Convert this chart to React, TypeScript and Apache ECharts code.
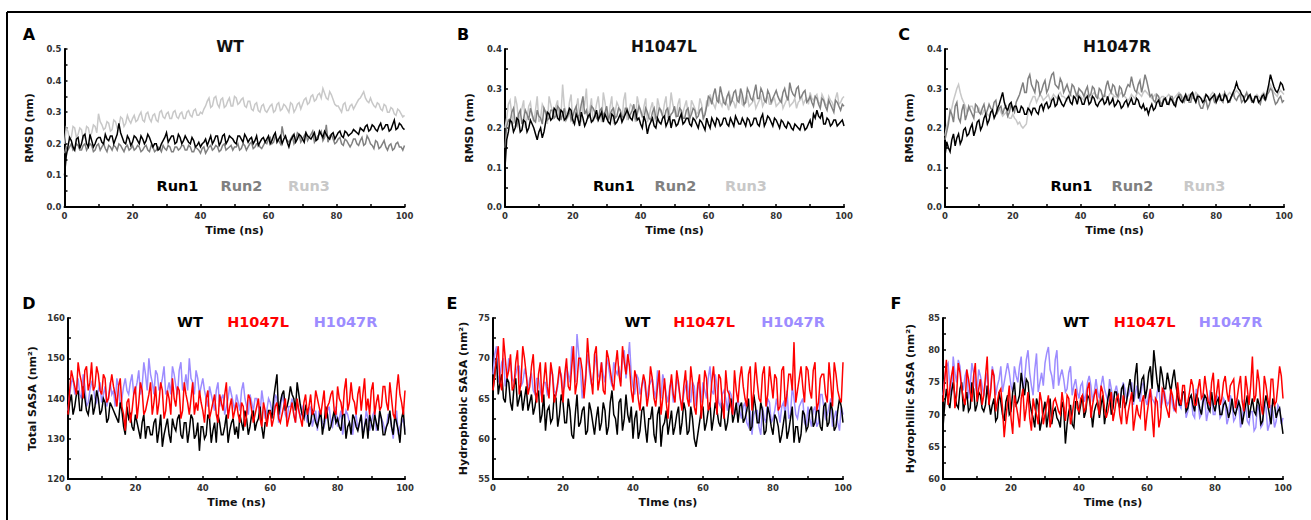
import React, { useEffect, useRef } from "react";
import * as echarts from "echarts";

// Time axis (ns): samples at whole ns (TIME) and half ns (TIME + 0.5)
const TIME: number[] = Array.from({ length: 101 }, (_, i) => i);

// ---------- Panel A : WT RMSD (nm) ----------
const A_RUN1 = [0.10,0.19,0.21,0.18,0.22,0.20,0.23,0.19,0.21,0.20,0.22,0.205,0.23,0.21,0.225,0.215,0.265,0.22,0.20,0.215,0.205,0.22,0.20,0.215,0.21,0.22,0.19,0.20,0.185,0.21,0.235,0.215,0.225,0.205,0.22,0.21,0.215,0.20,0.21,0.195,0.19,0.205,0.195,0.225,0.21,0.225,0.205,0.23,0.21,0.22,0.205,0.225,0.215,0.23,0.205,0.22,0.21,0.195,0.215,0.205,0.225,0.21,0.235,0.215,0.20,0.225,0.19,0.22,0.205,0.23,0.215,0.235,0.22,0.225,0.21,0.24,0.22,0.23,0.215,0.235,0.225,0.24,0.22,0.235,0.23,0.245,0.235,0.25,0.24,0.26,0.245,0.255,0.24,0.265,0.25,0.26,0.245,0.275,0.25,0.26,0.245];
const A_RUN1_H = [
  0.16,0.22,0.19,0.215,0.185,0.225,0.20,0.23,0.19,0.215,
  0.22,0.20,0.215,0.225,0.20,0.23,0.235,0.205,0.225,0.195,
  0.225,0.21,0.225,0.20,0.23,0.205,0.20,0.18,0.20,0.22,
  0.205,0.225,0.20,0.23,0.20,0.225,0.205,0.22,0.19,0.205,
  0.20,0.215,0.21,0.20,0.225,0.195,0.225,0.20,0.225,0.215,
  0.20,0.225,0.205,0.22,0.215,0.20,0.225,0.205,0.22,0.215,
  0.20,0.225,0.205,0.225,0.215,0.205,0.21,0.23,0.215,0.225,
  0.205,0.225,0.215,0.235,0.215,0.23,0.24,0.22,0.23,0.215,
  0.235,0.225,0.24,0.225,0.235,0.24,0.23,0.245,0.255,0.24,
  0.26,0.245,0.255,0.245,0.26,0.24,0.26,0.245,0.265,0.25];
const A_RUN2 = [0.17,0.18,0.20,0.185,0.195,0.18,0.20,0.19,0.195,0.18,0.20,0.19,0.185,0.195,0.18,0.19,0.20,0.185,0.19,0.18,0.195,0.185,0.19,0.18,0.195,0.175,0.19,0.18,0.185,0.195,0.18,0.19,0.175,0.19,0.185,0.195,0.18,0.19,0.175,0.185,0.17,0.19,0.18,0.195,0.185,0.19,0.18,0.20,0.185,0.195,0.19,0.20,0.185,0.195,0.19,0.205,0.19,0.20,0.185,0.205,0.215,0.20,0.225,0.21,0.255,0.22,0.205,0.225,0.21,0.23,0.215,0.235,0.22,0.24,0.215,0.23,0.21,0.26,0.225,0.215,0.205,0.22,0.195,0.21,0.19,0.215,0.20,0.21,0.195,0.225,0.20,0.185,0.205,0.19,0.21,0.18,0.20,0.185,0.205,0.19,0.195];
const A_RUN2_H = [
  0.19,0.19,0.18,0.20,0.18,0.195,0.18,0.20,0.175,0.195,
  0.18,0.20,0.175,0.19,0.195,0.18,0.195,0.175,0.195,0.185,
  0.18,0.195,0.175,0.19,0.18,0.195,0.175,0.19,0.175,0.185,
  0.195,0.175,0.19,0.18,0.195,0.18,0.195,0.175,0.19,0.18,
  0.185,0.17,0.19,0.18,0.195,0.175,0.195,0.18,0.19,0.18,
  0.19,0.18,0.20,0.18,0.20,0.185,0.20,0.19,0.195,0.20,
  0.22,0.205,0.215,0.20,0.225,0.21,0.215,0.20,0.235,0.205,
  0.225,0.21,0.23,0.205,0.225,0.24,0.22,0.205,0.23,0.20,
  0.215,0.20,0.215,0.20,0.20,0.215,0.195,0.22,0.20,0.215,
  0.195,0.21,0.185,0.20,0.19,0.195,0.18,0.20,0.19,0.18];
const A_RUN3 = [0.20,0.24,0.22,0.25,0.23,0.245,0.225,0.25,0.235,0.255,0.295,0.26,0.25,0.265,0.245,0.27,0.255,0.28,0.265,0.275,0.28,0.27,0.29,0.275,0.295,0.28,0.29,0.275,0.30,0.285,0.295,0.28,0.30,0.285,0.295,0.28,0.30,0.29,0.305,0.29,0.30,0.31,0.335,0.315,0.345,0.325,0.34,0.315,0.335,0.32,0.35,0.325,0.34,0.32,0.335,0.31,0.325,0.305,0.32,0.305,0.31,0.325,0.305,0.33,0.31,0.32,0.30,0.325,0.31,0.33,0.325,0.345,0.33,0.355,0.34,0.36,0.375,0.345,0.365,0.34,0.32,0.31,0.325,0.305,0.32,0.31,0.33,0.345,0.365,0.335,0.345,0.32,0.33,0.31,0.325,0.30,0.315,0.295,0.31,0.295,0.29];
const A_RUN3_H = [
  0.25,0.215,0.255,0.22,0.25,0.215,0.255,0.225,0.26,0.235,
  0.27,0.245,0.27,0.24,0.275,0.25,0.285,0.255,0.29,0.265,
  0.29,0.275,0.30,0.27,0.30,0.27,0.295,0.27,0.305,0.28,
  0.30,0.28,0.305,0.28,0.30,0.28,0.305,0.285,0.31,0.29,
  0.295,0.32,0.345,0.32,0.35,0.315,0.345,0.32,0.345,0.32,
  0.345,0.33,0.345,0.315,0.335,0.305,0.33,0.30,0.325,0.30,
  0.32,0.30,0.325,0.305,0.325,0.31,0.33,0.30,0.325,0.31,
  0.34,0.325,0.35,0.335,0.355,0.345,0.36,0.34,0.355,0.325,
  0.32,0.30,0.33,0.305,0.325,0.32,0.34,0.355,0.345,0.33,
  0.33,0.315,0.325,0.305,0.32,0.30,0.31,0.29,0.305,0.285];

// ---------- Panel B : H1047L RMSD (nm) ----------
const B_RUN1 = [0.10,0.19,0.215,0.20,0.22,0.195,0.215,0.20,0.21,0.185,0.19,0.175,0.215,0.235,0.225,0.245,0.22,0.24,0.225,0.25,0.22,0.235,0.205,0.225,0.215,0.235,0.22,0.245,0.23,0.215,0.225,0.21,0.23,0.215,0.235,0.225,0.245,0.225,0.24,0.22,0.21,0.23,0.185,0.215,0.205,0.225,0.21,0.23,0.215,0.20,0.22,0.21,0.235,0.215,0.225,0.205,0.22,0.20,0.215,0.195,0.21,0.225,0.205,0.22,0.21,0.225,0.205,0.215,0.23,0.21,0.225,0.205,0.22,0.21,0.225,0.205,0.235,0.215,0.225,0.205,0.22,0.20,0.215,0.20,0.21,0.195,0.205,0.195,0.21,0.20,0.22,0.235,0.245,0.225,0.21,0.225,0.205,0.22,0.205,0.215,0.205];
const B_RUN1_H = [
  0.17,0.22,0.19,0.225,0.19,0.22,0.19,0.22,0.20,0.17,
  0.20,0.19,0.24,0.22,0.25,0.225,0.245,0.22,0.235,0.245,
  0.21,0.225,0.24,0.205,0.23,0.215,0.23,0.22,0.24,0.235,
  0.215,0.235,0.21,0.225,0.215,0.235,0.235,0.22,0.245,0.225,
  0.20,0.215,0.205,0.225,0.20,0.215,0.225,0.205,0.23,0.22,
  0.205,0.225,0.21,0.225,0.21,0.225,0.21,0.22,0.205,0.225,
  0.20,0.215,0.225,0.205,0.225,0.21,0.225,0.205,0.22,0.21,
  0.215,0.225,0.205,0.225,0.21,0.225,0.205,0.23,0.215,0.225,
  0.21,0.22,0.205,0.215,0.20,0.21,0.20,0.21,0.195,0.21,
  0.20,0.225,0.23,0.24,0.21,0.22,0.21,0.22,0.21,0.22];
const B_RUN2 = [0.15,0.22,0.24,0.215,0.235,0.21,0.245,0.22,0.235,0.215,0.23,0.21,0.24,0.225,0.245,0.23,0.25,0.235,0.22,0.245,0.23,0.255,0.235,0.28,0.245,0.23,0.25,0.225,0.245,0.23,0.255,0.235,0.25,0.23,0.245,0.225,0.25,0.235,0.26,0.235,0.245,0.225,0.24,0.22,0.25,0.23,0.245,0.225,0.25,0.235,0.255,0.23,0.245,0.225,0.25,0.235,0.245,0.23,0.25,0.235,0.28,0.26,0.30,0.265,0.285,0.26,0.29,0.27,0.295,0.265,0.285,0.265,0.29,0.27,0.31,0.275,0.29,0.265,0.285,0.275,0.295,0.27,0.29,0.28,0.315,0.285,0.30,0.275,0.29,0.265,0.28,0.255,0.275,0.25,0.27,0.245,0.26,0.24,0.265,0.245,0.255];
const B_RUN2_H = [
  0.205,0.215,0.25,0.205,0.245,0.225,0.235,0.25,0.22,0.245,
  0.225,0.25,0.22,0.245,0.225,0.255,0.22,0.25,0.23,0.22,
  0.245,0.225,0.26,0.235,0.225,0.255,0.24,0.22,0.25,0.24,
  0.22,0.245,0.225,0.25,0.23,0.25,0.225,0.245,0.225,0.255,
  0.23,0.25,0.225,0.24,0.225,0.25,0.23,0.245,0.225,0.24,
  0.23,0.25,0.225,0.245,0.225,0.25,0.225,0.245,0.225,0.255,
  0.275,0.285,0.27,0.305,0.265,0.28,0.26,0.29,0.27,0.30,
  0.26,0.30,0.275,0.29,0.275,0.30,0.27,0.295,0.265,0.285,
  0.28,0.265,0.30,0.27,0.295,0.28,0.305,0.28,0.295,0.27,
  0.265,0.28,0.26,0.275,0.255,0.27,0.25,0.27,0.255,0.26];
const B_RUN3 = [0.20,0.26,0.235,0.28,0.22,0.25,0.20,0.255,0.23,0.245,0.215,0.26,0.235,0.28,0.24,0.255,0.22,0.31,0.24,0.265,0.21,0.25,0.23,0.27,0.30,0.245,0.215,0.26,0.24,0.29,0.235,0.255,0.21,0.265,0.245,0.27,0.22,0.26,0.235,0.28,0.24,0.255,0.215,0.25,0.23,0.275,0.24,0.26,0.225,0.29,0.245,0.26,0.22,0.255,0.235,0.27,0.25,0.24,0.26,0.235,0.255,0.27,0.25,0.28,0.255,0.265,0.245,0.27,0.25,0.28,0.26,0.275,0.255,0.265,0.25,0.27,0.255,0.275,0.26,0.27,0.255,0.265,0.25,0.27,0.255,0.265,0.25,0.27,0.26,0.275,0.29,0.27,0.285,0.26,0.275,0.255,0.27,0.25,0.29,0.265,0.28];
const B_RUN3_H = [
  0.225,0.27,0.21,0.26,0.235,0.27,0.225,0.265,0.215,0.28,
  0.225,0.25,0.21,0.26,0.225,0.27,0.23,0.255,0.225,0.285,
  0.22,0.275,0.215,0.26,0.225,0.275,0.235,0.28,0.215,0.265,
  0.22,0.28,0.24,0.255,0.215,0.29,0.24,0.255,0.215,0.26,
  0.225,0.275,0.23,0.265,0.215,0.255,0.23,0.28,0.24,0.26,
  0.225,0.275,0.24,0.27,0.215,0.26,0.235,0.275,0.22,0.27,
  0.285,0.26,0.27,0.265,0.275,0.26,0.28,0.265,0.27,0.285,
  0.255,0.28,0.26,0.275,0.26,0.28,0.265,0.28,0.26,0.275,
  0.26,0.275,0.26,0.28,0.26,0.275,0.265,0.28,0.27,0.26,
  0.275,0.28,0.265,0.285,0.26,0.28,0.265,0.275,0.26,0.275];

// ---------- Panel C : H1047R RMSD (nm) ----------
const C_RUN1 = [0.13,0.15,0.17,0.155,0.185,0.17,0.20,0.185,0.21,0.195,0.22,0.205,0.235,0.22,0.245,0.235,0.26,0.29,0.25,0.26,0.245,0.255,0.24,0.25,0.235,0.245,0.25,0.24,0.255,0.245,0.265,0.255,0.275,0.26,0.27,0.255,0.275,0.265,0.28,0.26,0.275,0.26,0.28,0.265,0.275,0.255,0.27,0.26,0.28,0.265,0.255,0.27,0.25,0.265,0.255,0.275,0.26,0.27,0.25,0.245,0.235,0.26,0.25,0.27,0.255,0.275,0.26,0.27,0.255,0.28,0.265,0.285,0.27,0.29,0.265,0.28,0.265,0.285,0.27,0.28,0.265,0.285,0.27,0.28,0.27,0.29,0.315,0.295,0.28,0.27,0.285,0.265,0.28,0.27,0.285,0.29,0.335,0.305,0.29,0.315,0.295];
const C_RUN1_H = [
  0.165,0.14,0.185,0.175,0.16,0.195,0.18,0.20,0.18,0.215,
  0.195,0.225,0.21,0.24,0.225,0.25,0.275,0.265,0.245,0.265,
  0.255,0.24,0.255,0.235,0.25,0.235,0.25,0.235,0.26,0.26,
  0.25,0.27,0.255,0.28,0.26,0.265,0.28,0.26,0.275,0.28,
  0.26,0.275,0.26,0.28,0.26,0.265,0.275,0.265,0.26,0.275,
  0.26,0.265,0.255,0.27,0.265,0.26,0.275,0.255,0.26,0.25,
  0.25,0.245,0.265,0.255,0.27,0.26,0.275,0.26,0.275,0.27,
  0.275,0.27,0.285,0.275,0.28,0.275,0.27,0.28,0.275,0.285,
  0.275,0.27,0.285,0.265,0.28,0.30,0.30,0.285,0.265,0.28,
  0.27,0.28,0.265,0.28,0.27,0.31,0.32,0.295,0.30,0.31];
const C_RUN2 = [0.17,0.21,0.235,0.255,0.225,0.245,0.22,0.255,0.235,0.26,0.24,0.25,0.235,0.26,0.245,0.27,0.25,0.235,0.255,0.24,0.25,0.265,0.285,0.315,0.29,0.335,0.30,0.32,0.285,0.31,0.29,0.32,0.34,0.305,0.325,0.29,0.31,0.285,0.305,0.28,0.295,0.28,0.305,0.285,0.30,0.275,0.295,0.28,0.32,0.29,0.305,0.28,0.30,0.285,0.31,0.33,0.295,0.31,0.29,0.335,0.30,0.285,0.265,0.28,0.26,0.275,0.26,0.28,0.265,0.285,0.27,0.28,0.265,0.29,0.27,0.26,0.25,0.27,0.26,0.28,0.27,0.285,0.265,0.28,0.265,0.29,0.27,0.285,0.27,0.29,0.28,0.265,0.28,0.26,0.275,0.285,0.30,0.275,0.265,0.28,0.27];
const C_RUN2_H = [
  0.19,0.245,0.215,0.265,0.215,0.26,0.235,0.245,0.225,0.255,
  0.235,0.26,0.245,0.25,0.265,0.24,0.255,0.25,0.23,0.26,
  0.24,0.275,0.30,0.29,0.325,0.31,0.29,0.315,0.295,0.32,
  0.30,0.335,0.31,0.30,0.315,0.30,0.295,0.31,0.29,0.30,
  0.29,0.295,0.28,0.305,0.28,0.30,0.28,0.305,0.30,0.31,
  0.285,0.305,0.28,0.30,0.305,0.31,0.29,0.32,0.31,0.32,
  0.28,0.27,0.285,0.265,0.275,0.265,0.28,0.26,0.275,0.285,
  0.265,0.28,0.265,0.275,0.285,0.25,0.265,0.25,0.275,0.265,
  0.28,0.27,0.29,0.265,0.28,0.275,0.28,0.265,0.28,0.275,
  0.265,0.28,0.265,0.28,0.27,0.29,0.295,0.26,0.275,0.265];
const C_RUN3 = [0.18,0.22,0.25,0.285,0.31,0.275,0.255,0.245,0.255,0.24,0.25,0.235,0.245,0.23,0.24,0.235,0.25,0.23,0.24,0.225,0.235,0.22,0.215,0.20,0.21,0.26,0.28,0.265,0.285,0.27,0.28,0.27,0.285,0.275,0.29,0.28,0.27,0.285,0.275,0.29,0.28,0.27,0.285,0.275,0.29,0.28,0.27,0.285,0.275,0.29,0.28,0.275,0.29,0.28,0.27,0.285,0.275,0.29,0.28,0.295,0.285,0.275,0.285,0.27,0.28,0.275,0.285,0.27,0.28,0.29,0.28,0.27,0.285,0.275,0.29,0.28,0.27,0.285,0.275,0.29,0.28,0.27,0.285,0.275,0.29,0.28,0.295,0.285,0.275,0.285,0.28,0.27,0.285,0.275,0.29,0.28,0.31,0.29,0.28,0.295,0.285];
const C_RUN3_H = [
  0.205,0.235,0.27,0.30,0.29,0.265,0.24,0.255,0.245,0.24,
  0.24,0.245,0.235,0.24,0.23,0.245,0.24,0.235,0.23,0.225,
  0.225,0.21,0.205,0.205,0.24,0.27,0.28,0.275,0.28,0.275,
  0.285,0.275,0.28,0.285,0.28,0.275,0.285,0.28,0.28,0.285,
  0.275,0.28,0.28,0.285,0.285,0.275,0.28,0.28,0.285,0.285,
  0.28,0.285,0.285,0.275,0.275,0.28,0.285,0.285,0.29,0.29,
  0.28,0.28,0.275,0.275,0.28,0.28,0.28,0.275,0.285,0.285,
  0.275,0.28,0.28,0.28,0.285,0.275,0.28,0.28,0.285,0.285,
  0.275,0.28,0.28,0.285,0.285,0.29,0.29,0.28,0.28,0.285,
  0.275,0.28,0.28,0.285,0.285,0.30,0.30,0.285,0.29,0.29];

// ---------- Panel D : Total SASA (nm^2) ----------
const D_WT = [135,141,138,142,137,140,136,141,138,140,137,139,135,138,136,134,137,131,135,133,136,132,134,130,133,131,135,132,128,133,131,135,132,136,130,134,132,135,131,127,133,131,135,132,129,134,131,136,132,135,133,136,132,135,133,137,134,138,130,134,137,140,146,139,142,138,143,140,144,138,135,137,134,136,133,137,134,136,133,137,135,132,136,133,131,135,132,136,133,130,134,136,132,135,131,134,133,136,132,135,131];
const D_WT_H = [
  139,136,141,137,143,137,139,136,142,136,
  140,134,139,137,135,139,133,138,136,132,
  134,130,136,133,131,134,129,136,131,135,
  129,133,135,131,134,129,136,130,134,133,
  130,136,129,134,136,131,133,129,134,131,
  130,134,137,131,136,132,135,133,134,137,
  135,143,136,141,137,140,141,137,141,136,
  138,133,137,134,135,131,138,132,135,134,
  133,136,130,134,136,133,134,130,135,136,
  132,134,137,131,133,137,131,134,129,137];
const D_L = [136,147,143,149,144,147,142,149,143,146,141,145,140,146,141,143,138,132,140,137,143,139,142,137,141,136,143,139,142,137,140,145,138,142,137,141,136,144,139,142,137,140,135,139,136,141,137,144,138,135,139,134,138,136,140,134,138,135,139,133,137,135,139,134,138,133,137,136,140,135,139,136,141,137,140,136,142,138,141,137,143,139,142,137,144,139,141,137,145,140,142,136,141,138,143,137,140,135,146,139,142];
const D_L_H = [
  142,145,141,146,140,148,144,142,148,142,
  146,139,143,143,138,145,136,139,134,141,
  135,144,136,139,144,139,136,144,135,142,
  136,140,143,135,144,139,140,136,137,139,
  134,142,137,141,134,139,141,135,140,137,
  136,139,133,141,137,136,140,133,137,136,
  133,138,135,136,140,135,139,134,137,133,
  141,138,136,142,138,139,135,139,142,136,
  140,136,145,139,140,136,143,141,137,136,
  144,139,137,143,139,144,136,142,141,136];
const D_R = [137,144,141,145,140,143,139,144,140,142,139,143,140,141,138,143,140,145,141,146,142,147,143,146,150,144,147,142,145,141,144,148,143,147,142,146,150,144,147,141,145,140,143,139,142,138,141,138,143,139,141,137,144,138,141,137,140,136,139,137,139,136,140,137,139,135,138,136,139,135,137,134,138,135,132,136,133,137,134,136,133,137,134,136,133,135,132,136,133,135,134,137,133,135,132,136,133,135,131,134,132];
const D_R_H = [
  141,145,142,141,146,138,142,143,139,144,
  141,138,144,142,145,138,143,142,144,141,
  144,141,149,142,146,141,146,143,148,142,
  141,146,141,149,143,142,145,141,145,143,
  142,138,141,137,144,140,136,140,141,137,
  139,142,140,136,139,140,138,142,135,140,
  137,141,134,141,136,138,140,134,137,138,
  136,137,133,137,137,134,135,138,133,138,
  135,131,137,134,131,136,134,131,137,132,
  136,132,136,134,133,136,130,137,133,135];

// ---------- Panel E : Hydrophobic SASA (nm^2) ----------
const E_WT = [66,70,67,65,67.5,64.5,66.5,64,66,65,63.5,65.5,64,66,63,61,64,62.5,65,63,64.5,62,63.5,60,65.5,62,64,61,63.5,60.5,64,62,63.5,61.5,66,62.5,64.5,61,65.5,62,60,63.5,61,64,59.5,62.5,60.5,63,59,62,60.5,63.5,61.5,64,62,63.5,61,62.5,59,62,64,62,64.5,62.5,63.5,61.5,63,62,65,63,62,64.5,62.5,65,61.5,64,62,63.5,61,63,60.5,62.5,59.5,62,60,62.5,59.5,61.5,60.5,63,61.5,64,62,63.5,61,64.5,62,63.5,61.5,65,62];
const E_WT_H = [
  68,65.5,68,64.5,67,63.5,67.5,65,63.5,66.5,
  64.5,63,65.5,62,65.5,63.5,62,65.5,61.5,65.5,
  62,65,60.5,63,61.5,63.5,60.5,64.5,62,62.5,
  61,64.5,60.5,64.5,63,60.5,65,62.5,63,64,
  62.5,60,63.5,61.5,62.5,64,59.5,64,61.5,63.5,
  62,60.5,63,60.5,64.5,60.5,64,60,60.5,63.5,
  61,63.5,61,64.5,62,64.5,61,64,62,64.5,
  64,62,63.5,61,65.5,62,64.5,60.5,64,61.5,
  63,61.5,60.5,63.5,61,64,61.5,59.5,63.5,61,
  63.5,61.5,63.5,61.5,64,61.5,64.5,61,63.5,64];
const E_L = [66,70,67,72.5,67.5,70.5,66.5,71,67,70,65.5,69,66,68,64.5,69.5,65,68,65.5,69,64.5,70,66,71.5,67,70,65,72.5,67.5,70.5,66,69.5,65.5,70,67,69,68,71.5,68,69,64.5,67.5,63.5,68,64,69,65,66.5,63,67.5,62.5,68,64.5,67,63.5,68.5,64,67,63,68,65,67.5,64,69,63,67.5,62.5,66,64,68.5,64.5,69,65,68,63.5,69.5,65,68,64,69,65,67.5,64,69,65.5,68,72,66,69,64.5,68.5,65,69.5,64.5,68,65.5,69.5,64,68,65,69.5];
const E_L_H = [
  68,71.5,66,70,68.5,66,69.5,65.5,71.5,68,
  66.5,70.5,64.5,69.5,67,66.5,69.5,64.5,67,67.5,
  68,66.5,69,65.5,70,68.5,67.5,69.5,65.5,71.5,
  67.5,66,71,68.5,66,71,66.5,69.5,70.5,66,
  68.5,65,66.5,67,65.5,67.5,64,68.5,65,64.5,
  66,65.5,68.5,65,66.5,65,69,64,66.5,62.5,
  68.5,63.5,67,66,68,64.5,68.5,65.5,63,66,
  67.5,66.5,64,69,66,67,64.5,69,65.5,67,
  68,63.5,68.5,64,68,66,64.5,67.5,66.5,69,
  66,68.5,63.5,67.5,68,64.5,67,69.5,66,64.5];
const E_R = [68,71.5,68,70,67.5,69.5,67,69,66.5,68.5,66,68,65.5,67.5,65,67,66,68,65.5,68.5,66,69,67,70,73,68.5,66.5,70.5,67,69,68,69.5,67,69,66.5,68.5,69,70,67.5,72,66.5,68,65.5,67.5,65,67,66,68.5,65,67,64.5,67,65.5,66.5,64,66.5,65,67,64,66,67,65,69,65.5,66.5,64,66,63.5,65.5,63,65,62.5,64.5,61.5,60.5,63.5,61.5,64,62,64.5,62.5,65,62,64.5,66,63,65,62.5,64.5,62,64,61.5,64,62,65.5,62.5,64,61.5,63.5,61,63];
const E_R_H = [
  70.5,67,69.5,66.5,70,67.5,68,69,67,68,
  67.5,66,67.5,66,67,65.5,68.5,66,66.5,68,
  66.5,68,71.5,67,70.5,65,68,68.5,67.5,70.5,
  67.5,68,70,67.5,69.5,68,67,71,69.5,68,
  65.5,67.5,66.5,66,66.5,67.5,65,66.5,68,65.5,
  66.5,64.5,67.5,65,65.5,67,64.5,66.5,67,64.5,
  66,67.5,66,68,64.5,65.5,65,66,64.5,64,
  63.5,64,62,63.5,63,63.5,60.5,62.5,65,62,
  63.5,63.5,64,63,62.5,66.5,63,64,65,61.5,
  62.5,63.5,61.5,65.5,64,63,65,62.5,62,64];

// ---------- Panel F : Hydrophillic SASA (nm^2) ----------
const F_WT = [68,74,71,75,71.5,74,70.5,73.5,71,74,71.5,73,70.5,74.5,70,72.5,69.5,72,69,73,70.5,75,72,76.5,73,75,70.5,68,71.5,69,72,70,68.5,71,69,72,65.5,70.5,68.5,72,70,73,70.5,72.5,68,71.5,69.5,73,70.5,74,71,73.5,71,74.5,72,75.5,72,78,73.5,76,74,77.5,80,75,77.5,74,76.5,73.5,77,73,71.5,73.5,71,73,70.5,72.5,70,73,71,73.5,70.5,72.5,70,72,69.5,72.5,70,72,68.5,71.5,69.5,72.5,70,71.5,69,73,70,72.5,69.5,71,67];
const F_WT_H = [
  71.5,72,73.5,73,71,75,72,70.5,75,70.5,
  73.5,71,71.5,72,71.5,69,73.5,70,72,70,
  73.5,71.5,73,74.5,75.5,72,69.5,72.5,67.5,70.5,
  68,72.5,70.5,69.5,68,71,68.5,71.5,68,72,
  71.5,69.5,73,71,70.5,72,71.5,68.5,72.5,70,
  73.5,72,74,71,74,73.5,76,72.5,75.5,72.5,
  76.5,74,77.5,73.5,76,74,75,75.5,74.5,71.5,
  73.5,70.5,72.5,71.5,73,71,72,72.5,70.5,71.5,
  72,70,71.5,71,70.5,70.5,71,71,70,73,
  71,70.5,72.5,68.5,71.5,71.5,68.5,71.5,70.5,69];
const F_L = [72,78.5,74,77.5,73,76.5,72.5,77,73.5,76,72,75.5,73,79,73.5,76,72,74,66.5,72,69.5,73,70,72.5,69,73.5,67.5,71,68.5,72,70,73,69.5,72.5,70.5,73.5,69,72.5,70,74,70.5,73,71,75,71.5,74,70,73.5,69.5,72,69,72.5,70,73,68.5,72,67.5,71.5,69.5,73,70,74,66.5,72,69.5,73.5,70.5,74,71,75,71.5,74.5,72,75.5,71.5,74,72.5,76,72,75,71.5,75.5,72.5,76,72,75,71,74.5,72,76,71.5,79,73,75,70,74.5,71,75.5,72,77.5,72.5];
const F_L_H = [
  75.5,71.5,76,71,78,74,71.5,75.5,72,78,
  74,71.5,76,71.5,77,70.5,73.5,71,69.5,74.5,
  67,71.5,68,74,71,69.5,72.5,70,73.5,68.5,
  71.5,68,72,71.5,70,71.5,73,68.5,72,71,
  72.5,70.5,74,69.5,73,71.5,74.5,71,70.5,73.5,
  70.5,73,68.5,71.5,70.5,73.5,69.5,70,72,67.5,
  72,70,72.5,68,74,71.5,69.5,73,70.5,72.5,
  74.5,71,73.5,74.5,71.5,75.5,73,74,71.5,76.5,
  73.5,71.5,75,73.5,74.5,75.5,72.5,76,70.5,74,
  74.5,72,77,71.5,76,72.5,75.5,71.5,74.5,76];
const F_R = [73,77.5,74.5,79,75,77.5,74,77,74.5,76.5,73.5,76,73,76.5,74,76,74.5,77.5,75,78,74.5,77.5,75,79,75.5,80,74.5,77,73.5,76.5,78,80.5,76,78.5,74.5,77,73.5,76.5,73,75.5,72.5,75,73,76,72,75.5,72.5,76,73,75.5,72,74.5,71.5,75,72.5,74,71.5,74.5,72,75,71.5,74,72,73.5,71,74,71.5,73.5,70.5,73,71,73.5,70.5,73,69.5,72,70,72.5,70.5,73,70,72.5,70,72,69.5,72,69.5,71.5,69,71.5,68.5,70.5,68,70.5,68.5,71,68.5,70.5,69,71,69.5];
const F_R_H = [
  75.5,78,73,76.5,78.5,74.5,76,72.5,78,74.5,
  77,74.5,75,73,77.5,73,75.5,73.5,76.5,76.5,
  73.5,76,77.5,73.5,78.5,76.5,73,79.5,75,74.5,
  79.5,77,74,80,76,75.5,74,77.5,74.5,73.5,
  74.5,72,75,74.5,73.5,73.5,74.5,74,72,74,
  73.5,73,73.5,74,73,75,73,73,74.5,72.5,
  73,72.5,71.5,74.5,72,72.5,72,71.5,72,71.5,
  73.5,69.5,72.5,70,74,69.5,73,69,73.5,70,
  73,69.5,72.5,68.5,73,69,72.5,68,72,69,
  70.5,67.5,71.5,68,72,67.5,71.5,68,71.5,68.5];

// Labels
const PANEL_LETTERS = ["A", "B", "C", "D", "E", "F"];
const RMSD_TITLES = ["WT", "H1047L", "H1047R"];
const RUN_NAMES = ["Run1", "Run2", "Run3"];
const VARIANT_NAMES = ["WT", "H1047L", "H1047R"];
const X_NAMES = ["Time (ns)", "Time (ns)", "Time (ns)", "Time (ns)", "TIme (ns)", "Time (ns)"];
const Y_NAMES = ["RMSD (nm)", "RMSD (nm)", "RMSD (nm)", "Total SASA (nm²)", "Hydrophobic SASA (nm²)", "Hydrophillic SASA (nm²)"];

const FONT = '"DejaVu Sans", "Liberation Sans", sans-serif';
const RUN_COLORS = ["#000000", "#808080", "#c8c8c8"];
const VAR_COLORS = ["#000000", "#ff0000", "#9d8cff"];

// layout
const GRIDS = [
  { left: 64.5, top: 49, width: 340, height: 158 },
  { left: 505, top: 49, width: 339, height: 158 },
  { left: 945, top: 49, width: 339, height: 158 },
  { left: 68, top: 318, width: 337, height: 161 },
  { left: 493, top: 318, width: 350, height: 161 },
  { left: 943, top: 318, width: 340, height: 161 },
];
const Y_RANGES = [
  { min: 0, max: 0.5, step: 0.05, major: 0.1, dec: 1 },
  { min: 0, max: 0.4, step: 0.05, major: 0.1, dec: 1 },
  { min: 0, max: 0.4, step: 0.05, major: 0.1, dec: 1 },
  { min: 120, max: 160, step: 5, major: 10, dec: 0 },
  { min: 55, max: 75, step: 2.5, major: 5, dec: 0 },
  { min: 60, max: 85, step: 2.5, major: 5, dec: 0 },
];
const Y_NAME_GAPS = [30, 30, 30, 30, 24, 27];

const isMajor = (v: number, major: number) => Math.abs(v / major - Math.round(v / major)) < 1e-6;

function pairs(full: number[], half: number[]) {
  const out: number[][] = [];
  for (let k = 0; k < TIME.length && k < full.length; k++) {
    out.push([TIME[k], full[k]]);
    if (k < half.length && k < TIME.length - 1) out.push([TIME[k] + 0.5, half[k]]);
  }
  return out;
}

function App() {
  const ref = useRef<HTMLDivElement>(null);
  useEffect(() => {
    if (!ref.current) return;
    const chart = echarts.init(ref.current, undefined, { renderer: "svg" });

    const xAxes = GRIDS.map((_, i) => ({
      type: "value",
      gridIndex: i,
      min: 0,
      max: 100,
      interval: 10,
      name: X_NAMES[i],
      nameLocation: "middle",
      nameGap: 18,
      nameTextStyle: { fontFamily: FONT, fontWeight: "bold", fontSize: 11, color: "#111" },
      axisLine: { show: true, lineStyle: { color: "#000", width: 2 } },
      axisTick: { show: true, inside: true, length: 3, lineStyle: { color: "#000", width: 1.5 } },
      axisLabel: {
        formatter: (v: number) => (isMajor(v, 20) ? String(Math.round(v)) : ""),
        fontFamily: FONT, fontWeight: "bold", fontSize: 8.5, color: "#333", margin: 4,
      },
      splitLine: { show: false },
    }));

    const yAxes = GRIDS.map((_, i) => {
      const r = Y_RANGES[i];
      return {
        type: "value",
        gridIndex: i,
        min: r.min,
        max: r.max,
        interval: r.step,
        name: Y_NAMES[i],
        nameLocation: "middle",
        nameGap: Y_NAME_GAPS[i],
        nameTextStyle: { fontFamily: FONT, fontWeight: "bold", fontSize: 11, color: "#111" },
        axisLine: { show: true, lineStyle: { color: "#000", width: 2 } },
        axisTick: { show: true, inside: true, length: 3, lineStyle: { color: "#000", width: 1.5 } },
        axisLabel: {
          formatter: (v: number) => (isMajor(v, r.major) ? v.toFixed(r.dec) : ""),
          fontFamily: FONT, fontWeight: "bold", fontSize: 8.5, color: "#333", margin: 3,
        },
        splitLine: { show: false },
      };
    });

    const mk = (idx: number, name: string, full: number[], half: number[], color: string) => ({
      type: "line",
      name,
      xAxisIndex: idx,
      yAxisIndex: idx,
      data: pairs(full, half),
      symbol: "none",
      showSymbol: false,
      silent: true,
      lineStyle: { width: 1.5, color, join: "miter" },
      itemStyle: { color },
    });

    const rmsd = [
      [[A_RUN1, A_RUN1_H], [A_RUN2, A_RUN2_H], [A_RUN3, A_RUN3_H]],
      [[B_RUN1, B_RUN1_H], [B_RUN2, B_RUN2_H], [B_RUN3, B_RUN3_H]],
      [[C_RUN1, C_RUN1_H], [C_RUN2, C_RUN2_H], [C_RUN3, C_RUN3_H]],
    ];
    const sasa = [
      [[D_WT, D_WT_H], [D_L, D_L_H], [D_R, D_R_H]],
      [[E_WT, E_WT_H], [E_L, E_L_H], [E_R, E_R_H]],
      [[F_WT, F_WT_H], [F_L, F_L_H], [F_R, F_R_H]],
    ];
    const series: any[] = [];
    rmsd.forEach((runs, p) => {
      [2, 1, 0].forEach((r) => series.push(mk(p, RUN_NAMES[r], runs[r][0], runs[r][1], RUN_COLORS[r])));
    });
    sasa.forEach((vars, p) => {
      [2, 0, 1].forEach((r) => series.push(mk(p + 3, VARIANT_NAMES[r], vars[r][0], vars[r][1], VAR_COLORS[r])));
    });

    const text = (t: string, x: number, y: number, size: number, color: string) => ({
      type: "text",
      x,
      y,
      style: { text: t, fill: color, font: `bold ${size}px ${FONT}`, align: "center", verticalAlign: "middle" },
    });

    const letterPos = [[29, 34], [463, 34], [904, 34], [29, 303], [452, 303], [896, 303]];
    const titlePos = [[230, 47], [664, 47], [1117, 47]];
    const runPos = [
      [177.5, 241.5, 309],
      [614, 675.5, 746],
      [1071.5, 1132.5, 1204.5],
    ];
    const varPos = [
      [190, 258, 345.5],
      [637.5, 704, 793],
      [1076, 1144.5, 1230.5],
    ];

    const graphic: any[] = [
      { type: "line", shape: { x1: 7, y1: 12, x2: 1311, y2: 12 }, style: { stroke: "#000", lineWidth: 2 } },
      { type: "line", shape: { x1: 7, y1: 12, x2: 7, y2: 520 }, style: { stroke: "#000", lineWidth: 2 } },
    ];
    PANEL_LETTERS.forEach((l, i) => graphic.push(text(l, letterPos[i][0], letterPos[i][1], 16, "#000")));
    RMSD_TITLES.forEach((t, i) => graphic.push(text(t, titlePos[i][0], titlePos[i][1], 15.5, "#111")));
    runPos.forEach((row) => row.forEach((x, r) => graphic.push(text(RUN_NAMES[r], x, 186, 14.5, RUN_COLORS[r]))));
    varPos.forEach((row) => row.forEach((x, r) => graphic.push(text(VARIANT_NAMES[r], x, 322, 14.5, VAR_COLORS[r]))));

    chart.setOption({
      animation: false,
      backgroundColor: "#ffffff",
      grid: GRIDS.map((g) => ({ ...g, containLabel: false })),
      xAxis: xAxes,
      yAxis: yAxes,
      series,
      graphic,
    });
    return () => chart.dispose();
  }, []);
  return (
    <div
      ref={ref}
      style={{ position: "absolute", left: 0, top: 0, width: 1311, height: 520, background: "#fff" }}
    />
  );
}

export default App;
